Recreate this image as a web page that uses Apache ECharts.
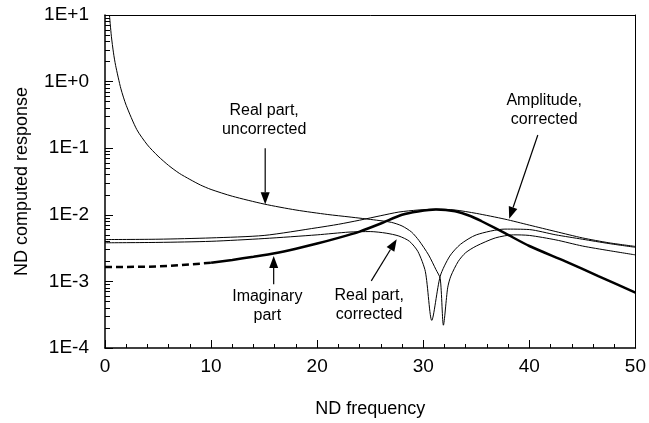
<!DOCTYPE html>
<html>
<head>
<meta charset="utf-8">
<script src="https://cdn.jsdelivr.net/npm/echarts@6/dist/echarts.min.js"></script>
<style>
  html, body { margin: 0; padding: 0; background: #fff; }
  #chart { width: 649px; height: 423px; }
</style>
</head>
<body>
<div id="chart"></div>
<script>
// y axis (log), decades and their labels
const yDecades = [1e-4, 1e-3, 1e-2, 1e-1, 1e0, 1e1]
const yTickLabels = ['1E-4', '1E-3', '1E-2', '1E-1', '1E+0', '1E+1']
const yMinorTicks = []
yDecades.slice(0, -1).forEach(d => {
  for (let k = 2; k <= 9; k++) yMinorTicks.push(d * k)
})

// Real part, uncorrected  [freq, value]
const realUncorrected = [
  [0.42, 10], [0.6, 4.8], [0.8, 2.7], [1, 1.75], [1.5, 0.78], [2, 0.44],
  [3, 0.19], [4, 0.112], [5, 0.076], [6, 0.055], [7, 0.042], [8, 0.034],
  [9, 0.028], [10, 0.024], [12, 0.019], [15, 0.0145], [18, 0.0118],
  [21, 0.0101], [23, 0.0093], [25.6, 0.0083], [27, 0.0077], [28, 0.0068],
  [28.9, 0.0055], [29.6, 0.0041], [30.5, 0.0025], [31.2, 0.0015],
  [31.6, 0.0011], [31.9, 0.00022], [32.3, 0.0008], [32.6, 0.0012],
  [33.3, 0.002], [34, 0.0027], [35, 0.0034], [36.8, 0.0045], [38.5, 0.005],
  [40, 0.0049], [42.5, 0.0042], [45, 0.0034], [47.5, 0.0029], [50, 0.0025]
]

// Real part, corrected
const realCorrected = [
  [0, 0.0038], [5, 0.00385], [10, 0.004], [15, 0.0044], [20, 0.005],
  [23, 0.0055], [25, 0.0056], [26.5, 0.0053], [27.7, 0.0048], [28.7, 0.004],
  [29.5, 0.0028], [30.2, 0.0014], [30.8, 0.00026], [31.6, 0.0012],
  [32.5, 0.0024], [33.5, 0.0036], [35, 0.005], [37.7, 0.0061], [40, 0.006],
  [42.5, 0.005], [45, 0.0043], [47.5, 0.0037], [50, 0.00325]
]

// Amplitude, corrected
const amplitude = [
  [0, 0.00425], [5, 0.0043], [10, 0.0045], [15, 0.0049], [20, 0.0064],
  [22, 0.0072], [24, 0.0083], [26, 0.0097], [27.7, 0.011], [29.5, 0.0118],
  [31.2, 0.0122], [33, 0.0118], [35, 0.0105], [37.7, 0.0086], [40, 0.007],
  [42.5, 0.0056], [45, 0.0045], [47.5, 0.0038], [50, 0.00335]
]

// Imaginary part: dashed at low frequency, thick solid after
const imagDashed = [
  [0, 0.00165], [2, 0.00165], [4, 0.00166], [6, 0.0017], [8, 0.0018], [10, 0.0019]
]
const imagSolid = [
  [10, 0.0019], [12, 0.0021], [14, 0.00235], [16, 0.00265], [18, 0.0031],
  [20, 0.0037], [22, 0.0045], [24, 0.0056], [26, 0.0074], [28, 0.01],
  [29.5, 0.0112], [31.2, 0.012], [33, 0.0113], [34.5, 0.0095], [35.5, 0.008],
  [37.7, 0.0053], [40, 0.0034], [43.4, 0.002], [46.5, 0.0012], [50, 0.00068]
]

// annotations
const noteTexts = ['Real part,\nuncorrected', 'Imaginary\npart', 'Real part,\ncorrected', 'Amplitude,\ncorrected']
const noteAt = [[15, 0.26], [15.3, 4.2e-4], [24.9, 4.4e-4], [41.4, 0.37]]
const arrowFrom = [[15.1, 0.1], [15.9, 9.1e-4], [25.1, 1.02e-3], [40.8, 0.158]]
const arrowTo = [[15.1, 0.0144], [15.9, 2.4e-3], [27.5, 4.3e-3], [38.1, 8.7e-3]]

const font = 'Liberation Sans, Arial, sans-serif'

const decadeLabel = v => {
  const i = Math.round(Math.log10(Number(v))) + 4
  return yTickLabels[i] || ''
}

const chart = echarts.init(document.getElementById('chart'))

const thin = (name, data) => ({
  name,
  type: 'line',
  data,
  showSymbol: false,
  smooth: 0.25,
  lineStyle: { color: '#000', width: 1 }
})

chart.setOption({
  animation: false,
  grid: { left: 105, right: 12, top: 15, bottom: 70 },
  xAxis: [
    {
      type: 'value',
      min: 0, max: 50, interval: 10,
      name: 'ND frequency',
      nameLocation: 'middle',
      nameGap: 52,
      nameTextStyle: { fontFamily: font, fontSize: 18, color: '#000' },
      axisLine: { show: true, onZero: false, lineStyle: { color: '#000', width: 1.5 } },
      axisTick: { show: true, inside: true, length: 8, lineStyle: { color: '#000', width: 1 } },
      minorTick: { show: true, splitNumber: 5, length: 4, lineStyle: { color: '#000', width: 1 } },
      splitLine: { show: false },
      axisLabel: { fontFamily: font, fontSize: 19, color: '#000', margin: 9 }
    },
    {
      type: 'value',
      min: 0, max: 50,
      position: 'top',
      axisLine: { show: true, onZero: false, lineStyle: { color: '#000', width: 1 } },
      axisTick: { show: false },
      axisLabel: { show: false },
      splitLine: { show: false }
    }
  ],
  yAxis: [
    {
      type: 'log',
      min: 1e-4, max: 10,
      name: 'ND computed response',
      nameLocation: 'middle',
      nameGap: 74,
      nameTextStyle: { fontFamily: font, fontSize: 18, color: '#000' },
      axisLine: { show: true, onZero: false, lineStyle: { color: '#000', width: 1.5 } },
      axisTick: { show: true, inside: true, length: 8, lineStyle: { color: '#000', width: 1 } },
      splitLine: { show: false },
      axisLabel: {
        fontFamily: font, fontSize: 19, color: '#000', margin: 16,
        formatter: decadeLabel
      }
    },
    {
      type: 'log',
      min: 1e-4, max: 10,
      position: 'right',
      axisLine: { show: true, onZero: false, lineStyle: { color: '#000', width: 1 } },
      axisTick: { show: false },
      axisLabel: { show: false },
      splitLine: { show: false }
    },
    {
      // minor ticks at 2..9 of each decade, drawn on the left edge
      type: 'log',
      min: 1e-4, max: 10,
      position: 'right',
      axisLine: { show: false, onZero: true },
      axisTick: { show: true, inside: false, length: 5, lineStyle: { color: '#000', width: 1 }, customValues: yMinorTicks },
      axisLabel: { show: false },
      splitLine: { show: false }
    }
  ],
  series: [
    thin('Real part, uncorrected', realUncorrected),
    thin('Real part, corrected', realCorrected),
    thin('Amplitude, corrected', amplitude),
    {
      name: 'Imaginary part (low)',
      type: 'line',
      data: imagDashed,
      showSymbol: false,
      lineStyle: { color: '#000', width: 2.5, type: [7, 4] }
    },
    {
      name: 'Imaginary part',
      type: 'line',
      data: imagSolid,
      showSymbol: false,
      smooth: 0.25,
      lineStyle: { color: '#000', width: 2.5 }
    }
  ]
})

// annotations: placed through the axes' scales
const toPx = p => chart.convertToPixel({ xAxisIndex: 0, yAxisIndex: 0 }, p)
const notes = []
noteTexts.forEach((t, i) => {
  const c = toPx(noteAt[i])
  const a = toPx(arrowFrom[i])
  const b = toPx(arrowTo[i])
  const dx = b[0] - a[0], dy = b[1] - a[1]
  const len = Math.hypot(dx, dy)
  const ux = dx / len, uy = dy / len
  const head = 12, half = 4.5
  const base = [b[0] - ux * head, b[1] - uy * head]
  notes.push({
    type: 'text',
    x: c[0], y: c[1],
    style: {
      text: t, fontFamily: font, fontSize: 16, lineHeight: 19,
      fill: '#000', align: 'center', verticalAlign: 'middle'
    }
  })
  notes.push({
    type: 'line',
    shape: { x1: a[0], y1: a[1], x2: base[0], y2: base[1] },
    style: { stroke: '#000', lineWidth: 1.2 }
  })
  notes.push({
    type: 'polygon',
    shape: {
      points: [
        b,
        [base[0] - uy * half, base[1] + ux * half],
        [base[0] + uy * half, base[1] - ux * half]
      ]
    },
    style: { fill: '#000' }
  })
})
chart.setOption({ graphic: notes })
</script>
</body>
</html>
